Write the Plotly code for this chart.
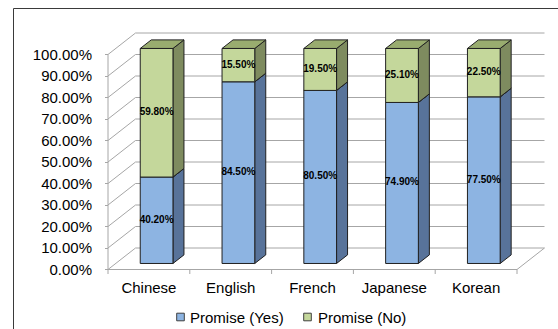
import plotly.graph_objects as go

# ---- data -------------------------------------------------------------
categories = ["Chinese", "English", "French", "Japanese", "Korean"]
promise_yes = [40.2, 84.5, 80.5, 74.9, 77.5]
promise_no = [59.8, 15.5, 19.5, 25.1, 22.5]
series_names = ["Promise (Yes)", "Promise (No)"]
y_ticks = [0, 10, 20, 30, 40, 50, 60, 70, 80, 90, 100]
y_tick_text = [f"{t:.2f}%" for t in y_ticks]

# ---- canvas geometry (pixels) ----------------------------------------
W, H = 558, 329
PLOT_L, PLOT_R, PLOT_T, PLOT_B = 100, 558, 0, 277
PX_CAT = 81.8        # pixels per category on the front plane
PX_PCT = 2.15        # pixels per percent on the front plane
Y0_PX = 269.5        # pixel row of 0 % on the front plane
X_LEFT_PX = 108      # pixel column of the front-left corner

x_lo = -0.5 - (X_LEFT_PX - PLOT_L) / PX_CAT
x_hi = x_lo + (PLOT_R - PLOT_L) / PX_CAT
y_hi = (Y0_PX - PLOT_T) / PX_PCT
y_lo = (Y0_PX - PLOT_B) / PX_PCT

# oblique projection: full depth of the chart box expressed in data units
DEPTH_X = 27.5 / PX_CAT
DEPTH_Y = 21.5 / PX_PCT
BAR_HALF = 0.2
D_FRONT, D_BACK = 0.28, 0.68
N = len(categories)

FONT = "Liberation Sans, Arial, sans-serif"
GRID = "#a6a6a6"
EDGE = "#202020"
BLUE = dict(front="#8DB4E2", side="#58739A", top="#7495C0")
GREEN = dict(front="#C4D79B", side="#7E8B5F", top="#99AC6F")


def proj(x, v, d):
    """Map (category position, value, depth 0..1) onto the front-plane axes."""
    return x + d * DEPTH_X, v + d * DEPTH_Y


def px(p):
    return (p - PLOT_L) / (PLOT_R - PLOT_L)


def py(q):
    return (PLOT_B - q) / (PLOT_B - PLOT_T)


fig = go.Figure()


def add_path(points_list, color, width=1):
    xs, ys = [], []
    for pts in points_list:
        for (a, b) in pts:
            xs.append(a)
            ys.append(b)
        xs.append(None)
        ys.append(None)
    fig.add_trace(go.Scatter(x=xs, y=ys, mode="lines",
                             line=dict(color=color, width=width),
                             hoverinfo="skip", showlegend=False))


# side wall and back wall gridlines
grid_paths = []
for t in y_ticks:
    grid_paths.append([proj(-0.5, t, 0), proj(-0.5, t, 1), proj(N - 0.5, t, 1)])
# floor outline, front value axis and category boundary ticks
grid_paths.append([proj(-0.5, 0, 0), proj(N - 0.5, 0, 0), proj(N - 0.5, 0, 1)])
grid_paths.append([proj(-0.5, 0, 0), proj(-0.5, 100, 0)])
for k in range(N + 1):
    b = k - 0.5
    grid_paths.append([(b, 0), (b, -4.5 / PX_PCT)])
add_path(grid_paths, GRID)


def add_faces(polys, fill):
    xs, ys = [], []
    for poly in polys:
        for (a, b) in poly + [poly[0]]:
            xs.append(a)
            ys.append(b)
        xs.append(None)
        ys.append(None)
    fig.add_trace(go.Scatter(x=xs, y=ys, mode="lines", fill="toself",
                             fillcolor=fill, line=dict(color=EDGE, width=1),
                             hoverinfo="skip", showlegend=False))


def add_segments(bases, values, colors):
    fronts, sides, tops = [], [], []
    for i, (b, v) in enumerate(zip(bases, values)):
        t = b + v
        l, r = i - BAR_HALF, i + BAR_HALF
        fronts.append([proj(l, b, D_FRONT), proj(r, b, D_FRONT),
                       proj(r, t, D_FRONT), proj(l, t, D_FRONT)])
        sides.append([proj(r, b, D_FRONT), proj(r, b, D_BACK),
                      proj(r, t, D_BACK), proj(r, t, D_FRONT)])
        tops.append([proj(l, t, D_FRONT), proj(r, t, D_FRONT),
                     proj(r, t, D_BACK), proj(l, t, D_BACK)])
    add_faces(sides, colors["side"])
    add_faces(tops, colors["top"])
    add_faces(fronts, colors["front"])


zeros = [0] * N
add_segments(zeros, promise_yes, BLUE)
add_segments(promise_yes, promise_no, GREEN)

# value labels on the front faces
for bases, values in ((zeros, promise_yes), (promise_yes, promise_no)):
    lx, ly = [], []
    for i, (b, v) in enumerate(zip(bases, values)):
        a, c = proj(i, b + v / 2, D_FRONT)
        lx.append(a)
        ly.append(c)
    fig.add_trace(go.Scatter(x=lx, y=ly, mode="text",
                             text=[f"{v:.2f}%" for v in values],
                             textfont=dict(family=FONT, size=10, color="black",
                                           weight="bold"),
                             hoverinfo="skip", showlegend=False))

# chart-area frame (left and top edges)
shapes = [
    dict(type="line", xref="paper", yref="paper",
         x0=px(13.5), x1=px(13.5), y0=py(8.5), y1=py(H + 5),
         line=dict(color="#3a3a3a", width=1)),
    dict(type="line", xref="paper", yref="paper",
         x0=px(13.5), x1=px(W + 5), y0=py(8.5), y1=py(8.5),
         line=dict(color="#3a3a3a", width=1)),
]

# legend: swatch + label for each series
annotations = []
legend_items = [(series_names[0], BLUE["front"], 180.5, 188),
                (series_names[1], GREEN["front"], 307.5, 315.5)]
LEG_Y = 317
for name, color, cx, tx in legend_items:
    shapes.append(dict(type="rect", xref="paper", yref="paper",
                       x0=px(cx - 3.8), x1=px(cx + 3.8),
                       y0=py(LEG_Y + 3.8), y1=py(LEG_Y - 3.8),
                       fillcolor=color, line=dict(color="#404040", width=1)))
    annotations.append(dict(xref="paper", yref="paper", x=px(tx), y=py(LEG_Y),
                            xanchor="left", yanchor="middle", showarrow=False,
                            text=name, font=dict(family=FONT, size=15,
                                                 color="black")))

fig.update_layout(
    width=W, height=H,
    margin=dict(l=PLOT_L, r=W - PLOT_R, t=PLOT_T, b=H - PLOT_B, pad=0),
    paper_bgcolor="white", plot_bgcolor="white",
    showlegend=False,
    shapes=shapes,
    annotations=annotations,
    xaxis=dict(range=[x_lo, x_hi], tickvals=list(range(N)), ticktext=categories,
               ticks="", showgrid=False, zeroline=False, showline=False,
               tickfont=dict(family=FONT, size=15, color="black"),
               fixedrange=True),
    yaxis=dict(range=[y_lo, y_hi], tickvals=y_ticks, ticktext=y_tick_text,
               anchor="free", position=px(X_LEFT_PX),
               ticks="outside", ticklen=3, tickcolor=GRID,
               showgrid=False, zeroline=False, showline=False,
               tickfont=dict(family=FONT, size=15, color="black"),
               ticklabelstandoff=10, fixedrange=True),
)

fig.write_html("out.html")
